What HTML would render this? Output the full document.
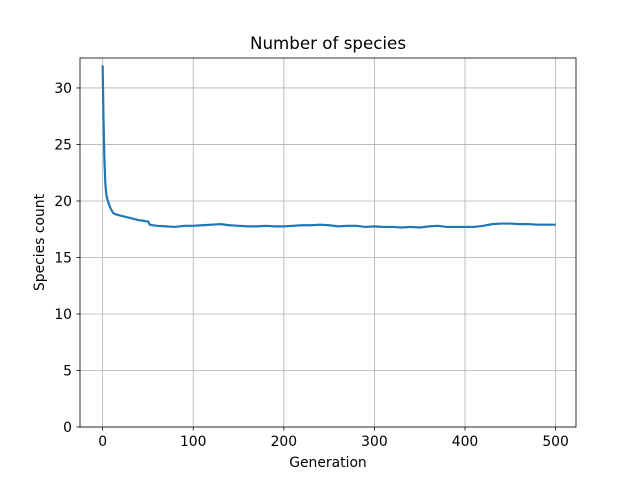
<!DOCTYPE html>
<html><head><meta charset="utf-8"><style>
body{margin:0;background:#fff;font-family:"Liberation Sans","DejaVu Sans",sans-serif}
svg text{font-family:"DejaVu Sans","Liberation Sans",sans-serif;font-size:13.9px;fill:#000}
</style></head><body>
<svg id="chart" width="640" height="480"></svg>
<script>
const generations=[0,1,2,3,4,5,7,9,12,15,20,25,30,35,40,45,48,50,52,55,60,70,80,90,100,110,120,130,140,150,160,170,180,190,200,210,220,230,240,250,260,270,280,290,300,310,320,330,340,350,360,370,380,390,400,410,420,430,440,450,460,470,480,490,500];
const speciesCount=[32,27,23.5,21.5,20.6,20.2,19.7,19.3,18.9,18.8,18.7,18.6,18.5,18.4,18.3,18.25,18.2,18.2,17.9,17.85,17.8,17.75,17.7,17.8,17.8,17.85,17.9,17.95,17.85,17.8,17.75,17.75,17.8,17.75,17.75,17.8,17.85,17.85,17.9,17.85,17.75,17.8,17.8,17.7,17.75,17.7,17.7,17.65,17.7,17.65,17.75,17.8,17.7,17.7,17.7,17.7,17.8,17.95,18.0,18.0,17.95,17.95,17.9,17.9,17.9];
const xTicks=[0,100,200,300,400,500];
const yTicks=[0,5,10,15,20,25,30];
const L=80,R=576,T=58,B=427;
const xMin=-25,xMax=522.5,yMin=0,yMax=32.65;
const sx=v=>L+(v-xMin)/(xMax-xMin)*(R-L);
const sy=v=>B-(v-yMin)/(yMax-yMin)*(B-T);
const svg=document.getElementById('chart');
const NS='http://www.w3.org/2000/svg';
function mk(tag,attrs,parent){const e=document.createElementNS(NS,tag);for(const k in attrs)e.setAttribute(k,attrs[k]);(parent||svg).appendChild(e);return e;}
xTicks.forEach(t=>{const x=sx(t);
const g=mk('line',{x1:x,x2:x,y1:T,y2:B,stroke:'#b0b0b0','stroke-width':0.8});


mk('line',{x1:x,x2:x,y1:B,y2:B+3.5,stroke:'#000','stroke-width':0.8});
const tx=mk('text',{x:x,y:B+19,'text-anchor':'middle'});tx.textContent=t;


});
yTicks.forEach(t=>{const y=sy(t);
const g=mk('line',{x1:L,x2:R,y1:y,y2:y,stroke:'#b0b0b0','stroke-width':0.8});


mk('line',{x1:L-3.5,x2:L,y1:y,y2:y,stroke:'#000','stroke-width':0.8});
const tx=mk('text',{x:L-8,y:y+5,'text-anchor':'end'});tx.textContent=t;


});
const pts=generations.map((g,i)=>sx(g).toFixed(2)+','+sy(speciesCount[i]).toFixed(2)).join(' ');
const line=mk('polyline',{points:pts,fill:'none',stroke:'#1f77b4','stroke-width':2.2,'stroke-linejoin':'round'});


const frame=mk('rect',{x:L,y:T,width:R-L,height:B-T,fill:'none',stroke:'#000','stroke-width':0.8});


const title=mk('text',{x:(L+R)/2,y:49,'text-anchor':'middle',style:'font-size:16.7px'});title.textContent='Number of species';


const xl=mk('text',{x:(L+R)/2,y:467,'text-anchor':'middle'});xl.textContent='Generation';


const yl=mk('text',{x:44,y:(T+B)/2,'text-anchor':'middle',transform:'rotate(-90 44 '+((T+B)/2)+')'});yl.textContent='Species count';


</script>
</body></html>
